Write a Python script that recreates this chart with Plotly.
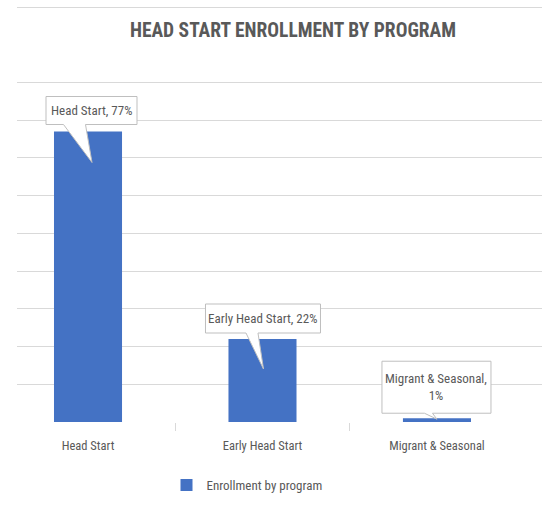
# Head Start enrollment by program - bar chart with callout labels

import plotly.graph_objects as go

programs = ["Head Start", "Early Head Start", "Migrant & Seasonal"]
shares = [0.77, 0.22, 0.01]
label_texts = ["Head Start, 77%", "Early Head Start, 22%", "Migrant & Seasonal,<br>1%"]
series_name = "Enrollment by program"

FONT = "Roboto Condensed, DejaVu Sans Condensed, sans-serif"
TXT = "#595959"
BLUE = "#4472C4"
GRID = "#d9d9d9"

# plot area geometry (pixels)
W, H = 542, 510
L, R, T, B = 17, 0, 6, 88
X_RANGE = [-0.407, 2.602]
Y_RANGE = [0, 1.1027]
PX = (W - L - R) / (X_RANGE[1] - X_RANGE[0])   # px per category
PY = (H - T - B) / (Y_RANGE[1] - Y_RANGE[0])   # px per unit

# callout placement relative to bar top (pixels): box centre dx,dy, size w,h,
# wedge base b0..b1 (relative to box centre x), tip tdx,tdy
callouts = [
    dict(dx=3.5, dy=-21, w=91, h=28, b0=-28, b1=-6, tdx=4, tdy=31),
    dict(dx=0.5, dy=-20.5, w=115, h=29, b0=-17, b1=-5, tdx=1, tdy=30),
    dict(dx=-0.5, dy=-31, w=109, h=52, b0=-12, b1=-4, tdx=0, tdy=1),
]

fig = go.Figure()
fig.add_trace(go.Bar(
    x=list(range(len(programs))), y=shares, name=series_name,
    marker=dict(color=BLUE, line=dict(width=0)), width=0.39,
    showlegend=True, hoverinfo="skip",
))

for i, (v, txt, c) in enumerate(zip(shares, label_texts, callouts)):
    def pt(px, py):
        return f"{i + px / PX:.5f},{v - py / PY:.5f}"
    cx, cy, w, h = c["dx"], c["dy"], c["w"], c["h"]
    path = ("M " + pt(cx - w / 2, cy - h / 2) +
            " L " + pt(cx + w / 2, cy - h / 2) +
            " L " + pt(cx + w / 2, cy + h / 2) +
            " L " + pt(cx + c["b1"], cy + h / 2) +
            " L " + pt(c["tdx"], c["tdy"]) +
            " L " + pt(cx + c["b0"], cy + h / 2) +
            " L " + pt(cx - w / 2, cy + h / 2) + " Z")
    fig.add_shape(type="path", path=path, xref="x", yref="y",
                  fillcolor="white", line=dict(color="#bfbfbf", width=1))
    fig.add_annotation(x=i + cx / PX, y=v - cy / PY, xref="x", yref="y",
                       text=txt, showarrow=False,
                       font=dict(family=FONT, size=13, color=TXT))

fig.update_layout(
    width=W, height=H,
    margin=dict(l=L, r=R, t=T, b=B, autoexpand=False),
    plot_bgcolor="white", paper_bgcolor="white",
    title=dict(text="<b>HEAD START ENROLLMENT BY PROGRAM</b>",
               x=293 / W, xref="container", xanchor="center",
               y=1 - 30 / H, yref="container", yanchor="middle",
               font=dict(family=FONT, size=19.5, color=TXT)),
    legend=dict(orientation="h", x=247 / W, xanchor="center",
                y=1 - 485 / H, yanchor="middle",
                xref="container", yref="container",
                font=dict(family=FONT, size=13, color=TXT)),
)

fig.update_xaxes(
    range=X_RANGE, tickvals=list(range(len(programs))), ticktext=programs,
    ticks="outside", ticklen=12, tickcolor="rgba(0,0,0,0)",
    minor=dict(tickvals=[0.5, 1.5], ticks="outside", ticklen=8,
               tickcolor=GRID, showgrid=False),
    showgrid=False, zeroline=False, showline=False,
    tickfont=dict(family=FONT, size=12.5, color=TXT),
)
fig.update_yaxes(
    range=Y_RANGE,
    tickvals=[0, 0.1, 0.2, 0.3, 0.4, 0.5, 0.6, 0.7, 0.8, 0.9, 1.1],
    showticklabels=False, showgrid=True, gridcolor=GRID, gridwidth=1,
    zeroline=False, showline=False,
)

# drop the default page margin so the figure sits at the window corner
fig.write_html("out.html", config={"displayModeBar": False},
               post_script="document.body.style.margin='0';")
